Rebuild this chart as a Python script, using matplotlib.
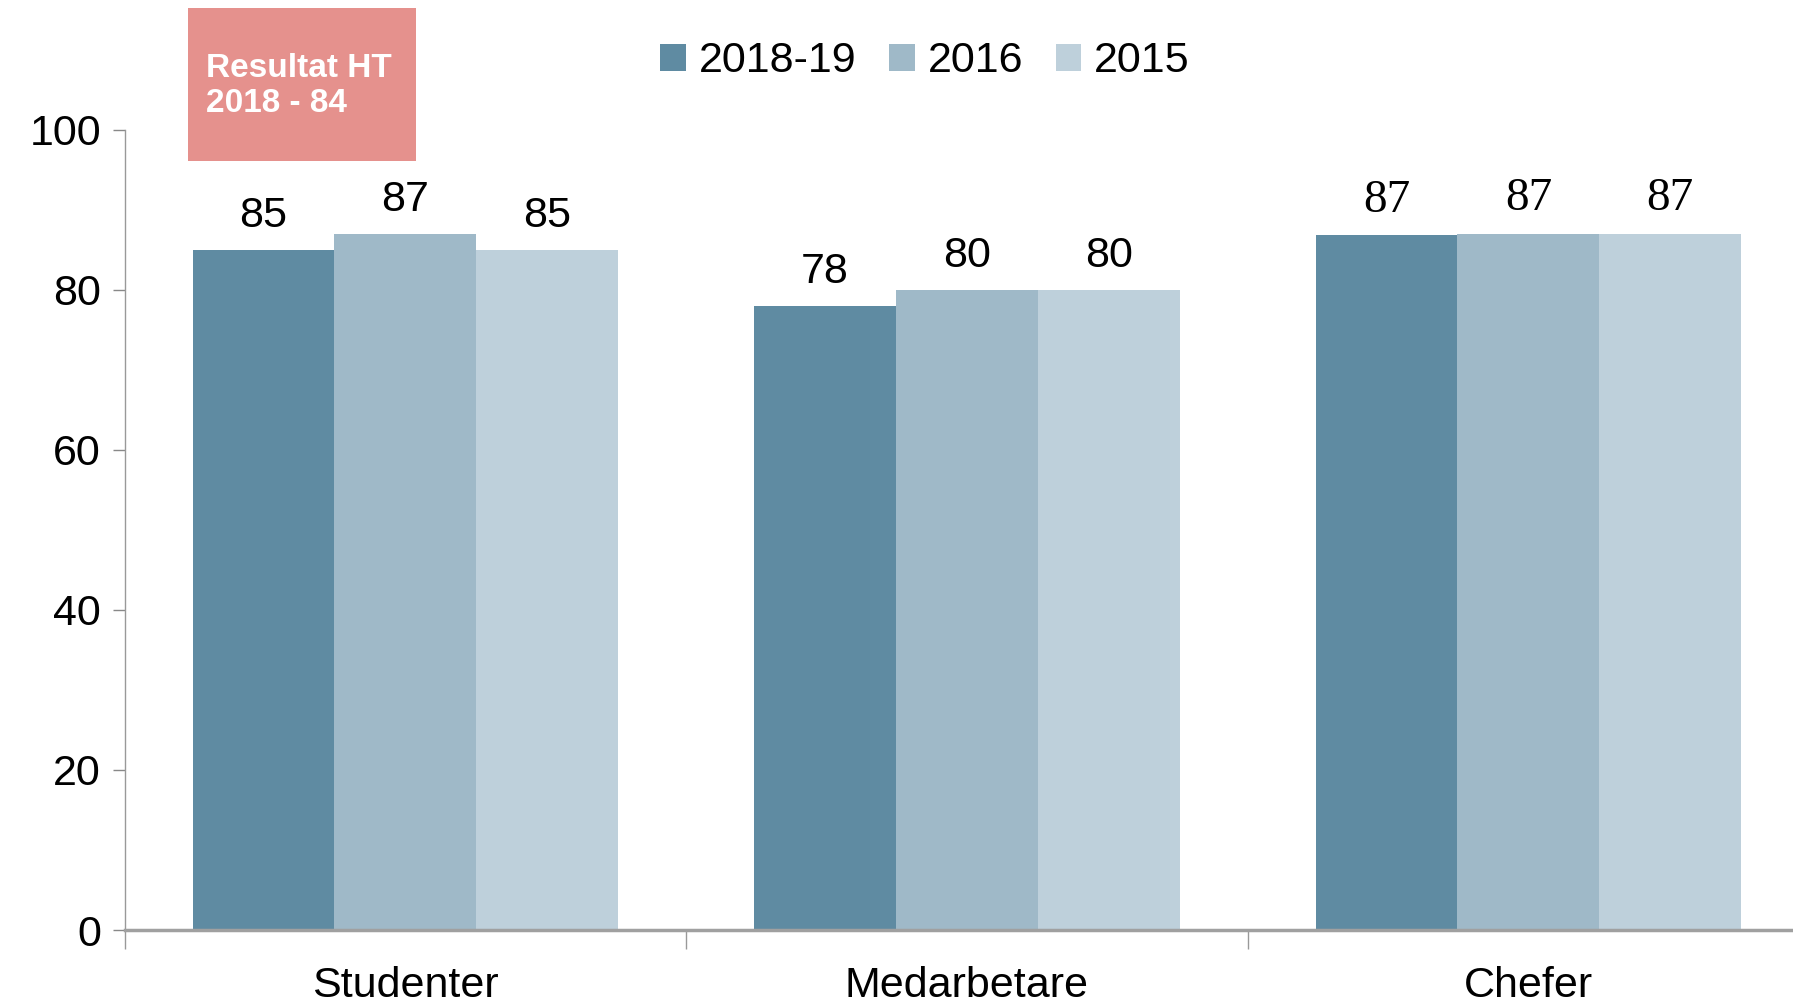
import numpy as np
import matplotlib.pyplot as plt
from matplotlib.patches import Rectangle

plt.rcParams['font.family'] = ['Liberation Sans', 'DejaVu Sans']

# Data
categories = ['Studenter', 'Medarbetare', 'Chefer']
series_names = ['2018-19', '2016', '2015']
vals_2018 = [85, 78, 86.8]
vals_2016 = [87, 80, 87]
vals_2015 = [85, 80, 87]
colors = ['#5F8BA2', '#9FB9C8', '#BED0DB']

series = [vals_2018, vals_2016, vals_2015]

fig = plt.figure(figsize=(17.93, 10.06), dpi=100)
ax = fig.add_axes([0.0695, 0.0755, 0.9395, 0.7955])

x = np.arange(len(categories))
w = 0.2526
for i, (name, vals) in enumerate(zip(series_names, series)):
    pos = x + (i - 1) * w
    bars = ax.bar(pos, vals, width=w, color=colors[i], label=name, zorder=2)
    for j, (b, v) in enumerate(zip(bars, vals)):
        if categories[j] == 'Chefer':
            kw = {'family': ['Liberation Serif', 'DejaVu Serif'], 'fontsize': 34}
        else:
            kw = {'fontsize': 31}
        ax.text(b.get_x() + b.get_width() / 2, v + 1.7, f'{v:.0f}',
                ha='center', va='bottom', **kw)

ax.set_xlim(-0.5, 2.5)
ax.set_ylim(0, 100)
ax.set_yticks([0, 20, 40, 60, 80, 100])
ax.tick_params(axis='y', labelsize=31, length=9, width=1, color='#888888', pad=8)

# category boundaries as x ticks, labels centred
ax.set_xticks([-0.5, 0.5, 1.5], minor=False)
ax.set_xticklabels([])
ax.set_xticks(x, minor=True)
ax.set_xticklabels(categories, minor=True)
ax.tick_params(axis='x', which='major', length=14, width=1, color='#999999', direction='out')
ax.tick_params(axis='x', which='minor', length=0, labelsize=31, pad=26)

for s in ['top', 'right']:
    ax.spines[s].set_visible(False)
ax.spines['left'].set_color('#999999')
ax.spines['left'].set_linewidth(1)
ax.spines['bottom'].set_color('#A0A0A0')
ax.spines['bottom'].set_linewidth(2.5)

fig.legend(loc='center', bbox_to_anchor=(0.516, 0.939), ncol=3, frameon=False,
           fontsize=31, handlelength=0.6, handleheight=0.6, handletextpad=0.3,
           columnspacing=0.75)

# annotation box
fig.patches.append(Rectangle((187.5 / 1793, 1 - 161 / 1006), (416 - 187.5) / 1793,
                             (161 - 8) / 1006, transform=fig.transFigure,
                             facecolor='#E5918D', edgecolor='none'))
fig.text(206 / 1793, 1 - 86 / 1006, 'Resultat HT\n2018 - 84', color='white',
         fontsize=24, fontweight='bold', ha='left', va='center', linespacing=1.15)

fig.savefig('out.png', dpi=100)
